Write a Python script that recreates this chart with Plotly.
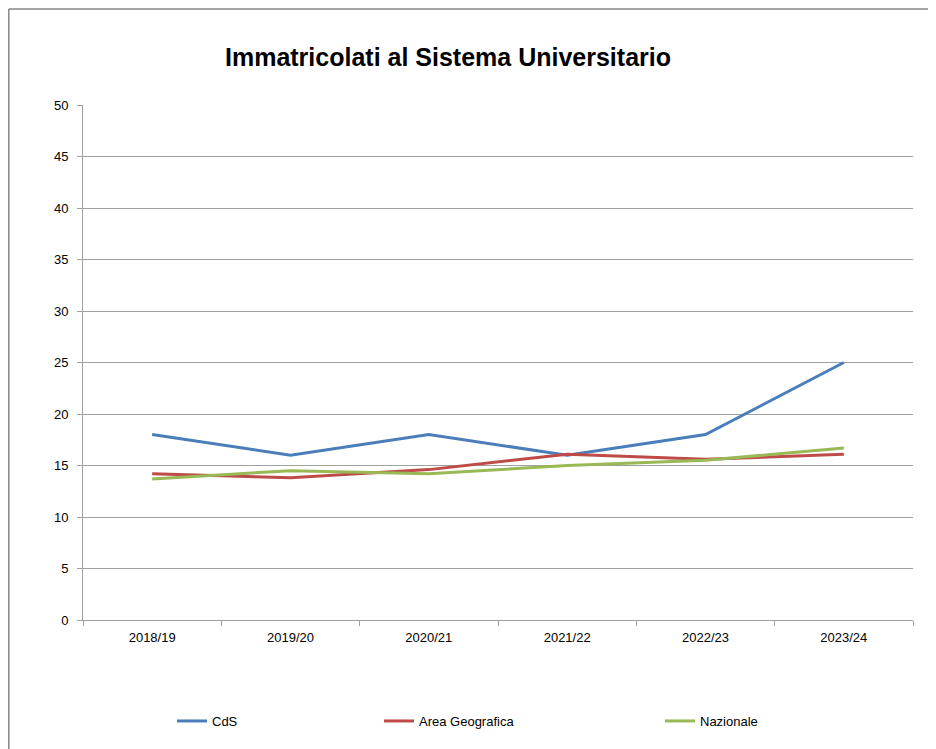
import plotly.graph_objects as go

years = ["2018/19", "2019/20", "2020/21", "2021/22", "2022/23", "2023/24"]
cds = [18, 16, 18, 16, 18, 25]
area_geografica = [14.2, 13.8, 14.6, 16.1, 15.6, 16.1]
nazionale = [13.7, 14.5, 14.2, 15.0, 15.5, 16.7]

series_names = ["CdS", "Area Geografica", "Nazionale"]
series_colors = ["#4a7ebb", "#be4b48", "#98b954"]

W, H = 936, 749
L, R, T, B = 75, 31, 97, 137
pw, ph = W - L - R, H - T - B

def px(x):
    return (x - L) / pw

def py(y):
    return (H - B - y) / ph

fig = go.Figure()
legends = ["legend", "legend2", "legend3"]
for name, vals, col, lg in zip(series_names, [cds, area_geografica, nazionale], series_colors, legends):
    fig.add_trace(go.Scatter(x=years, y=vals, mode="lines", name=name,
                             line=dict(color=col, width=3), legend=lg))

font = "Liberation Sans"
leg_x = [164, 371, 652]
leg_common = dict(orientation="h", yanchor="middle", xanchor="left",
                  font=dict(family=font, size=13, color="#000000"),
                  bgcolor="rgba(0,0,0,0)", itemwidth=30)

fig.update_layout(
    template="none",
    width=W, height=H,
    margin=dict(l=L, r=R, t=T, b=B),
    paper_bgcolor="white", plot_bgcolor="white",
    title=dict(text="<b>Immatricolati al Sistema Universitario</b>",
               xref="container", yref="container",
               x=440 / W, xanchor="center", y=1 - 49 / H, yanchor="middle",
               font=dict(family=font, size=25, color="#000000")),
    legend=dict(x=px(leg_x[0]), y=py(713), **leg_common),
    legend2=dict(x=px(leg_x[1]), y=py(713), **leg_common),
    legend3=dict(x=px(leg_x[2]), y=py(713), **leg_common),
    showlegend=True,
)

fig.update_xaxes(type="category", range=[-0.5, 5.5], showgrid=False, showline=True,
                 linecolor="#a0a0a0", linewidth=1, ticks="outside", tickson="boundaries",
                 ticklen=5, tickcolor="#a0a0a0", ticklabelstandoff=5, automargin=False,
                 tickfont=dict(family=font, size=13, color="#000000"),
                 zeroline=False, fixedrange=True)
fig.update_yaxes(range=[0, 50], dtick=5, tick0=0, showgrid=True, gridcolor="#a0a0a0",
                 gridwidth=1, showline=True, linecolor="#a0a0a0", linewidth=1,
                 ticks="outside", ticklen=5, tickcolor="#a0a0a0", ticklabelstandoff=6,
                 automargin=False,
                 tickfont=dict(family=font, size=13, color="#000000"),
                 zeroline=False, fixedrange=True)

# chart area border
fig.add_shape(type="line", xref="paper", yref="paper", x0=px(0.8), x1=px(0.8), y0=py(1), y1=py(H + 20),
              line=dict(color="#868686", width=1.5))
fig.add_shape(type="line", xref="paper", yref="paper", x0=px(0.8), x1=px(W + 20), y0=py(1), y1=py(1),
              line=dict(color="#868686", width=1.5))

fig.write_html("out.html")
